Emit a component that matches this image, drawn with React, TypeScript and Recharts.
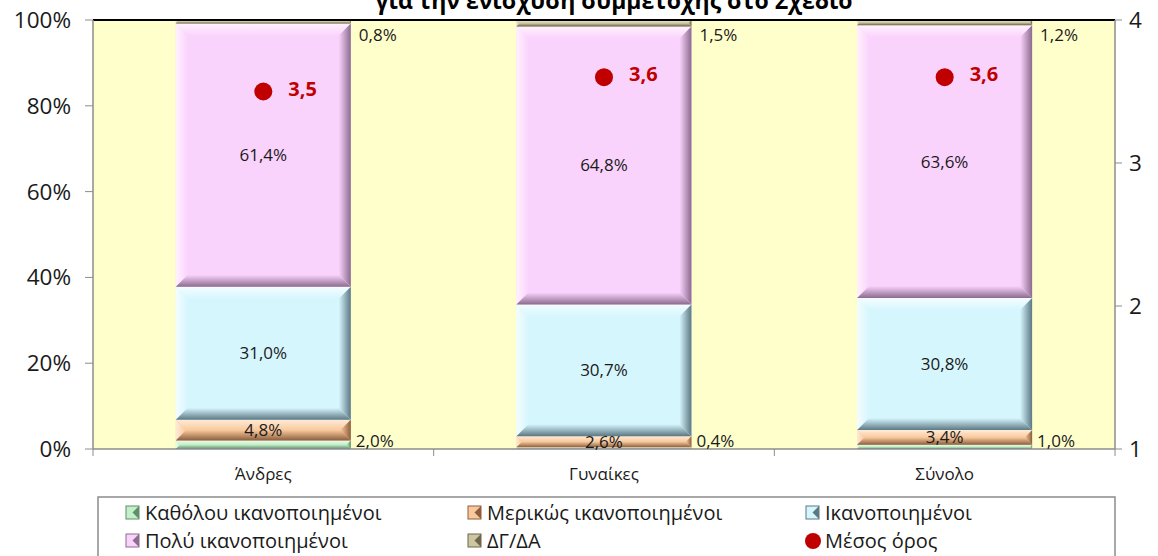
import React from "react";
import {
  ComposedChart,
  Bar,
  Line,
  XAxis,
  YAxis,
  CartesianGrid,
  ReferenceLine,
  LabelList,
} from "recharts";

const categories = ["Άνδρες", "Γυναίκες", "Σύνολο"];
const notAtAll = [2.0, 0.4, 1.0];
const partly = [4.8, 2.6, 3.4];
const satisfied = [31.0, 30.7, 30.8];
const verySatisfied = [61.4, 64.8, 63.6];
const dkNa = [0.8, 1.5, 1.2];
const meanScore = [3.5, 3.6, 3.6];
const pctTicks = [0, 20, 40, 60, 80, 100];
const meanTicks = [1, 2, 3, 4];
const title = "για την ενίσχυση συμμετοχής στο Σχέδιο";

const FONT = "'Open Sans', 'Noto Sans', sans-serif";
const W = 1158;
const H = 556;
const BAND = (W - 93 - 43) / 3;

const series = [
  { key: "notAtAll", name: "Καθόλου ικανοποιημένοι", base: "#C3EFC9", light: "#EBFCEE", dark: "#5E8F66" },
  { key: "partly", name: "Μερικώς ικανοποιημένοι", base: "#F9C99C", light: "#FFEBD8", dark: "#8C5E3D" },
  { key: "satisfied", name: "Ικανοποιημένοι", base: "#D6F6FE", light: "#F4FDFF", dark: "#5C7883" },
  { key: "verySatisfied", name: "Πολύ ικανοποιημένοι", base: "#FAD3FC", light: "#FFF2FF", dark: "#8C6B90" },
  { key: "dkNa", name: "ΔΓ/ΔΑ", base: "#CDC6A2", light: "#EEEAD6", dark: "#6C674C" },
];

const data = categories.map((c, i) => ({
  name: c,
  notAtAll: notAtAll[i],
  partly: partly[i],
  satisfied: satisfied[i],
  verySatisfied: verySatisfied[i],
  dkNa: dkNa[i],
  mean: meanScore[i],
}));

const fmt = (v: number) => v.toFixed(1).replace(".", ",");

const BevelBar = (props: any) => {
  const { x, y, width, height, gid } = props;
  if (!height || height <= 0) return null;
  const b = Math.min(12, height / 2, width / 2);
  const x2 = x + width;
  const y2 = y + height;
  return (
    <g>
      <rect x={x} y={y} width={width} height={height} fill={`url(#${gid}-c)`} />
      <polygon points={`${x},${y} ${x2},${y} ${x2 - b},${y + b} ${x + b},${y + b}`} fill={`url(#${gid}-t)`} />
      <polygon points={`${x},${y} ${x + b},${y + b} ${x + b},${y2 - b} ${x},${y2}`} fill={`url(#${gid}-l)`} />
      <polygon points={`${x2},${y} ${x2},${y2} ${x2 - b},${y2 - b} ${x2 - b},${y + b}`} fill={`url(#${gid}-r)`} />
      <polygon points={`${x},${y2} ${x + b},${y2 - b} ${x2 - b},${y2 - b} ${x2},${y2}`} fill={`url(#${gid}-b)`} />
    </g>
  );
};

const InsideLabel = (props: any) => {
  const { x, y, width, height, value } = props;
  return (
    <text x={x + width / 2} y={y + height / 2} dy={6} textAnchor="middle" fontFamily={FONT} fontSize={17} fill="#1a1a1a">
      {fmt(value)}%
    </text>
  );
};

const BottomOutLabel = (props: any) => {
  const { x, y, width, height, value } = props;
  return (
    <text x={x + width + 5} y={y + height - 2} textAnchor="start" fontFamily={FONT} fontSize={17} fill="#1a1a1a">
      {fmt(value)}%
    </text>
  );
};

const TopOutLabel = (props: any) => {
  const { x, y, width, value } = props;
  return (
    <text x={x + width + 8} y={y + 21} textAnchor="start" fontFamily={FONT} fontSize={17} fill="#1a1a1a">
      {fmt(value)}%
    </text>
  );
};

const MeanLabel = (props: any) => {
  const { x, y, value } = props;
  return (
    <text x={x + 25} y={y + 4} textAnchor="start" fontFamily={FONT} fontSize={20} fontWeight="bold" fill="#C00000">
      {fmt(value)}
    </text>
  );
};

const CatTick = (props: any) => {
  const { x, payload, index } = props;
  const axisY = 449;
  return (
    <g>
      <line x1={x - BAND / 2} y1={axisY} x2={x - BAND / 2} y2={axisY + 7} stroke="#8c8c8c" />
      {index === categories.length - 1 && (
        <line x1={x + BAND / 2} y1={axisY} x2={x + BAND / 2} y2={axisY + 7} stroke="#8c8c8c" />
      )}
      <text x={x} y={axisY + 31} textAnchor="middle" fontFamily={FONT} fontSize={17} fill="#1a1a1a">
        {payload.value}
      </text>
    </g>
  );
};

const LegendMarker = ({ s, x, y }: any) => (
  <g>
    <rect x={x} y={y} width={13} height={13} fill={s.base} stroke={s.dark} strokeWidth={1} />
    <polygon points={`${x + 13},${y} ${x + 13},${y + 13} ${x + 6.5},${y + 6.5}`} fill={s.dark} />
  </g>
);

export default function App() {
  const legendCols = [145, 487, 825];
  const legendRows = [513, 541];
  return (
    <div style={{ position: "absolute", left: 0, top: 0, width: W, height: H, overflow: "hidden", background: "#fff" }}>
      <ComposedChart
        width={W}
        height={H}
        data={data}
        margin={{ top: 20, right: 0, bottom: 59, left: 0 }}
        barCategoryGap="24.3%"
      >
        <defs>
          {series.map((s) => (
            <React.Fragment key={s.key}>
              <linearGradient id={`g-${s.key}-c`} x1="0" y1="0" x2="1" y2="0">
                <stop offset="0" stopColor={s.base} />
                <stop offset="1" stopColor={s.base} />
              </linearGradient>
              <linearGradient id={`g-${s.key}-t`} x1="0" y1="0" x2="0" y2="1">
                <stop offset="0" stopColor={s.light} />
                <stop offset="1" stopColor={s.base} />
              </linearGradient>
              <linearGradient id={`g-${s.key}-l`} x1="0" y1="0" x2="1" y2="0">
                <stop offset="0" stopColor={s.light} />
                <stop offset="1" stopColor={s.base} />
              </linearGradient>
              <linearGradient id={`g-${s.key}-r`} x1="0" y1="0" x2="1" y2="0">
                <stop offset="0" stopColor={s.base} />
                <stop offset="1" stopColor={s.dark} />
              </linearGradient>
              <linearGradient id={`g-${s.key}-b`} x1="0" y1="0" x2="0" y2="1">
                <stop offset="0" stopColor={s.base} />
                <stop offset="1" stopColor={s.dark} />
              </linearGradient>
            </React.Fragment>
          ))}
        </defs>
        <CartesianGrid horizontal={false} vertical={false} fill="#FFFFCC" yAxisId="left" />
        <XAxis
          dataKey="name"
          height={48}
          axisLine={{ stroke: "#8c8c8c", strokeWidth: 1.5 }}
          tickLine={false}
          tick={<CatTick />}
          interval={0}
        />
        <YAxis
          yAxisId="left"
          width={93}
          domain={[0, 100]}
          ticks={pctTicks}
          tickFormatter={(v: number) => `${v}%`}
          axisLine={{ stroke: "#8c8c8c", strokeWidth: 1.5 }}
          tickLine={{ stroke: "#8c8c8c" }}
          tickSize={8}
          tickMargin={14}
          tick={{ fontFamily: FONT, fontSize: 22.5, fill: "#1a1a1a" }}
        />
        <YAxis
          yAxisId="right"
          orientation="right"
          width={43}
          domain={[1, 4]}
          ticks={meanTicks}
          allowDecimals={false}
          axisLine={{ stroke: "#8c8c8c", strokeWidth: 1.5 }}
          tickLine={{ stroke: "#8c8c8c" }}
          tickSize={7}
          tickMargin={7}
          tick={{ fontFamily: FONT, fontSize: 22.5, fill: "#1a1a1a" }}
        />
        {series.map((s) => (
          <Bar
            key={s.key}
            dataKey={s.key}
            name={s.name}
            stackId="a"
            yAxisId="left"
            fill={s.base}
            isAnimationActive={false}
            shape={(p: any) => <BevelBar {...p} gid={`g-${s.key}`} />}
          >
            <LabelList
              dataKey={s.key}
              content={
                s.key === "notAtAll" ? (
                  <BottomOutLabel />
                ) : s.key === "dkNa" ? (
                  <TopOutLabel />
                ) : (
                  <InsideLabel />
                )
              }
            />
          </Bar>
        ))}
        <ReferenceLine yAxisId="left" y={100} stroke="#000" strokeWidth={2} />
        <Line
          yAxisId="right"
          dataKey="mean"
          name="Μέσος όρος"
          stroke="none"
          isAnimationActive={false}
          dot={{ r: 9, fill: "#C00000", stroke: "none" }}
          activeDot={false}
        >
          <LabelList dataKey="mean" content={<MeanLabel />} />
        </Line>
      </ComposedChart>
      <svg width={W} height={H} style={{ position: "absolute", left: 0, top: 0, pointerEvents: "none" }}>
        <text x={614} y={9} textAnchor="middle" fontFamily={FONT} fontSize={23} fontWeight="bold" fill="#000">
          {title}
        </text>
        <rect x={98} y={497} width={1017} height={80} fill="#fff" stroke="#8c8c8c" strokeWidth={1.5} />
        {series.map((s, i) => {
          const cx = legendCols[i % 3];
          const cy = legendRows[Math.floor(i / 3)];
          return (
            <g key={s.key}>
              <LegendMarker s={s} x={cx - 19} y={cy - 7} />
              <text x={cx} y={cy + 7} fontFamily={FONT} fontSize={20} fill="#1a1a1a">
                {s.name}
              </text>
            </g>
          );
        })}
        <circle cx={legendCols[2] - 12} cy={legendRows[1]} r={8} fill="#C00000" />
        <text x={legendCols[2]} y={legendRows[1] + 7} fontFamily={FONT} fontSize={20} fill="#1a1a1a">
          Μέσος όρος
        </text>
      </svg>
    </div>
  );
}
